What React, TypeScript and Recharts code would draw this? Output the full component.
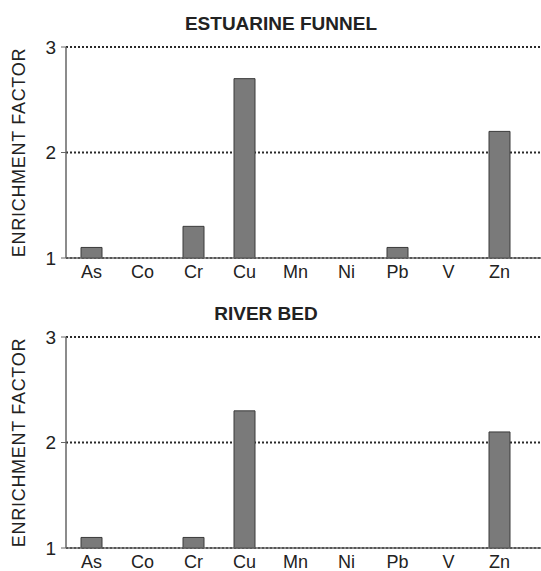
import { BarChart, Bar, XAxis, YAxis, CartesianGrid } from 'recharts';

const elements = ['As', 'Co', 'Cr', 'Cu', 'Mn', 'Ni', 'Pb', 'V', 'Zn'];
const estuarineFunnel = [1.1, null, 1.3, 2.7, null, null, 1.1, null, 2.2];
const riverBed = [1.1, null, 1.1, 2.3, null, null, null, null, 2.1];
const yTicks = [1, 2, 3];

const FONT = '"Liberation Sans", Arial, Helvetica, sans-serif';
const INK = '#222';

interface PanelProps {
  title: string;
  values: (number | null)[];
  top: number;
  titleX: number;
}

function Panel({ title, values, top, titleX }: PanelProps) {
  const data = elements.map((el, i) => ({ el, ef: values[i] }));
  return (
    <div style={{ position: 'absolute', left: 0, top, width: 541, height: 290 }}>
      <div
        style={{
          position: 'absolute', left: titleX - 150, width: 300, top: 14, textAlign: 'center',
          fontFamily: FONT, fontWeight: 'bold', fontSize: 19, color: INK, lineHeight: '20px',
        }}
      >
        {title}
      </div>
      <BarChart width={541} height={290} data={data} margin={{ top: 47, right: 0, bottom: 0, left: 0 }}>
        <CartesianGrid horizontal vertical={false} stroke="#2a2a2a" strokeWidth={2} strokeDasharray="2 2" />
        <XAxis
          dataKey="el"
          height={32}
          padding={{ left: 0, right: 16 }}
          tickLine={false}
          tickMargin={1}
          axisLine={{ stroke: '#666', strokeWidth: 1.5 }}
          tick={{ fontSize: 18, fill: INK, fontFamily: FONT }}
        />
        <YAxis
          type="number"
          domain={[1, 3]}
          ticks={yTicks}
          width={66}
          tickSize={5}
          tickMargin={5}
          axisLine={{ stroke: '#666', strokeWidth: 1.5 }}
          tickLine={{ stroke: '#666' }}
          tick={{ fontSize: 19, fill: INK, fontFamily: FONT }}
          label={{
            value: 'ENRICHMENT FACTOR', angle: -90, position: 'insideLeft', offset: 19,
            style: { textAnchor: 'middle', fontSize: 18, fill: INK, fontFamily: FONT, letterSpacing: 0.7 },
          }}
        />
        <Bar dataKey="ef" fill="#7a7a7a" stroke="#3a3a3a" strokeWidth={1} barSize={21} isAnimationActive={false} />
      </BarChart>
    </div>
  );
}

export default function App() {
  return (
    <div style={{ position: 'absolute', left: 0, top: 0, width: 541, height: 571, overflow: 'hidden', background: '#fff' }}>
      <Panel title="ESTUARINE FUNNEL" values={estuarineFunnel} top={0} titleX={281} />
      <Panel title="RIVER BED" values={riverBed} top={290} titleX={266} />
    </div>
  );
}
